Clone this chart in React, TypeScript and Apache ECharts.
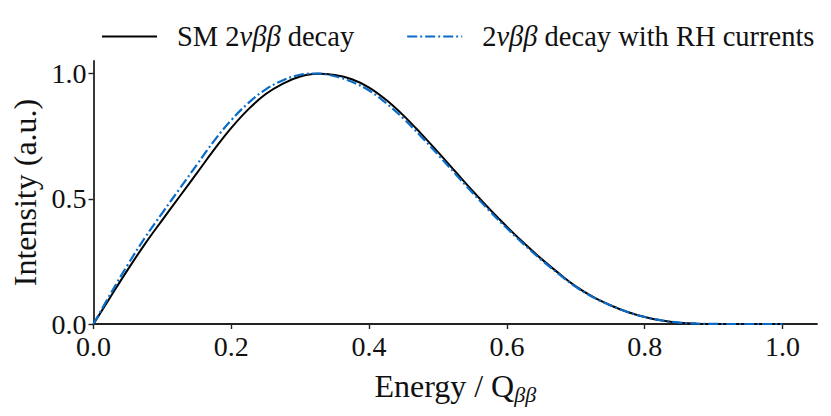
import React, { useEffect, useRef } from "react";
import * as echarts from "echarts";

const energy = [
  0, 0.025, 0.05, 0.075, 0.1, 0.125, 0.15, 0.175, 0.2, 0.225, 0.25, 0.275, 0.3,
  0.325, 0.35, 0.375, 0.4, 0.425, 0.45, 0.475, 0.5, 0.525, 0.55, 0.575, 0.6,
  0.625, 0.65, 0.675, 0.7, 0.725, 0.75, 0.775, 0.8, 0.825, 0.85, 0.875, 0.9,
  0.925, 0.95, 0.975, 1.0,
];

const smIntensity = [
  0, 0.11, 0.218, 0.321, 0.416, 0.509, 0.602, 0.696, 0.783, 0.858, 0.918, 0.96,
  0.988, 0.999, 0.994, 0.977, 0.944, 0.894, 0.832, 0.761, 0.686, 0.609, 0.532,
  0.458, 0.388, 0.322, 0.26, 0.203, 0.15, 0.108, 0.075, 0.048, 0.028, 0.014,
  0.0055, 0.0015, 0.0003, 0, 0, 0, 0,
];

const rhIntensity = [
  0, 0.122, 0.238, 0.346, 0.444, 0.54, 0.636, 0.731, 0.814, 0.883, 0.937,
  0.973, 0.995, 1.0, 0.989, 0.967, 0.932, 0.881, 0.82, 0.75, 0.676, 0.6, 0.524,
  0.451, 0.382, 0.317, 0.256, 0.2, 0.148, 0.107, 0.075, 0.048, 0.028, 0.014,
  0.0055, 0.0015, 0.0003, 0, 0, 0, 0,
];

const xTicks = [0, 0.2, 0.4, 0.6, 0.8, 1.0];
const yTicks = [0, 0.5, 1.0];

const FONT = "Liberation Serif";
const FS = 28;
const TITLE_FS = 32;
const LEG_FS = 28.5;
const BLUE = "#0a6cc9";

export default function App() {
  const ref = useRef<HTMLDivElement>(null);
  useEffect(() => {
    if (!ref.current) return;
    const chart = echarts.init(ref.current, undefined, { renderer: "svg" });
    const pair = (ys: number[]) => energy.map((x, i) => [x, ys[i]]);
    const rich = {
      t: { fontFamily: FONT, fontSize: LEG_FS, color: "#111" },
      i: { fontFamily: FONT, fontSize: LEG_FS, fontStyle: "italic", color: "#111" },
    };
    chart.setOption({
      animation: false,
      backgroundColor: "#fff",
      textStyle: { fontFamily: FONT, color: "#111" },
      grid: { left: 93.5, top: 61, width: 723.5, height: 263 },
      legend: {
        left: 96,
        top: 17,
        itemWidth: 55,
        itemHeight: 14,
        itemGap: 52,
        itemStyle: { opacity: 0 },
        data: ["SM", "RH"],
        formatter: (name: string) =>
          name === "SM"
            ? "{t|SM 2}{i|νββ}{t| decay}"
            : "{t|2}{i|νββ}{t| decay with RH currents}",
        textStyle: { fontFamily: FONT, fontSize: LEG_FS, color: "#111", padding: [0, 0, 0, 15], rich },
      },
      xAxis: {
        type: "value",
        min: 0,
        max: 1.05,
        name: "{t|Energy / Q}{s|ββ}",
        nameLocation: "middle",
        nameGap: 42,
        nameTextStyle: {
          rich: {
            t: { fontFamily: FONT, fontSize: TITLE_FS, color: "#111" },
            s: { fontFamily: FONT, fontSize: 22, fontStyle: "italic", color: "#111", padding: [17, 0, 0, 0] },
          },
        },
        splitLine: { show: false },
        axisLine: { lineStyle: { color: "#222", width: 1.8 } },
        axisTick: { show: true, length: 5, lineStyle: { color: "#222", width: 1.4 }, customValues: xTicks },
        axisLabel: {
          customValues: xTicks,
          formatter: (v: number) => v.toFixed(1),
          fontFamily: FONT,
          fontSize: FS,
          color: "#111",
          margin: 8,
        },
      },
      yAxis: {
        type: "value",
        min: 0,
        max: 1.05,
        name: "Intensity (a.u.)",
        nameLocation: "middle",
        nameGap: 50,
        nameTextStyle: { fontFamily: FONT, fontSize: TITLE_FS, color: "#111" },
        splitLine: { show: false },
        axisLine: { show: true, lineStyle: { color: "#222", width: 1.8 } },
        axisTick: { show: true, length: 5, lineStyle: { color: "#222", width: 1.4 }, customValues: yTicks },
        axisLabel: {
          customValues: yTicks,
          formatter: (v: number) => v.toFixed(1),
          fontFamily: FONT,
          fontSize: FS,
          color: "#111",
          margin: 7,
        },
      },
      series: [
        {
          name: "SM",
          type: "line",
          data: pair(smIntensity),
          smooth: 0.4,
          symbol: "none",
          lineStyle: { color: "#000", width: 2 },
          itemStyle: { color: "#000" },
          z: 2,
        },
        {
          name: "RH",
          type: "line",
          data: pair(rhIntensity),
          smooth: 0.4,
          symbol: "none",
          lineStyle: { color: BLUE, width: 2.2, type: [10, 3, 2, 3] },
          itemStyle: { color: BLUE },
          z: 3,
        },
      ],
    });
    return () => chart.dispose();
  }, []);
  return (
    <div
      ref={ref}
      style={{ position: "fixed", left: 0, top: 0, width: 831, height: 416, background: "#fff" }}
    />
  );
}
